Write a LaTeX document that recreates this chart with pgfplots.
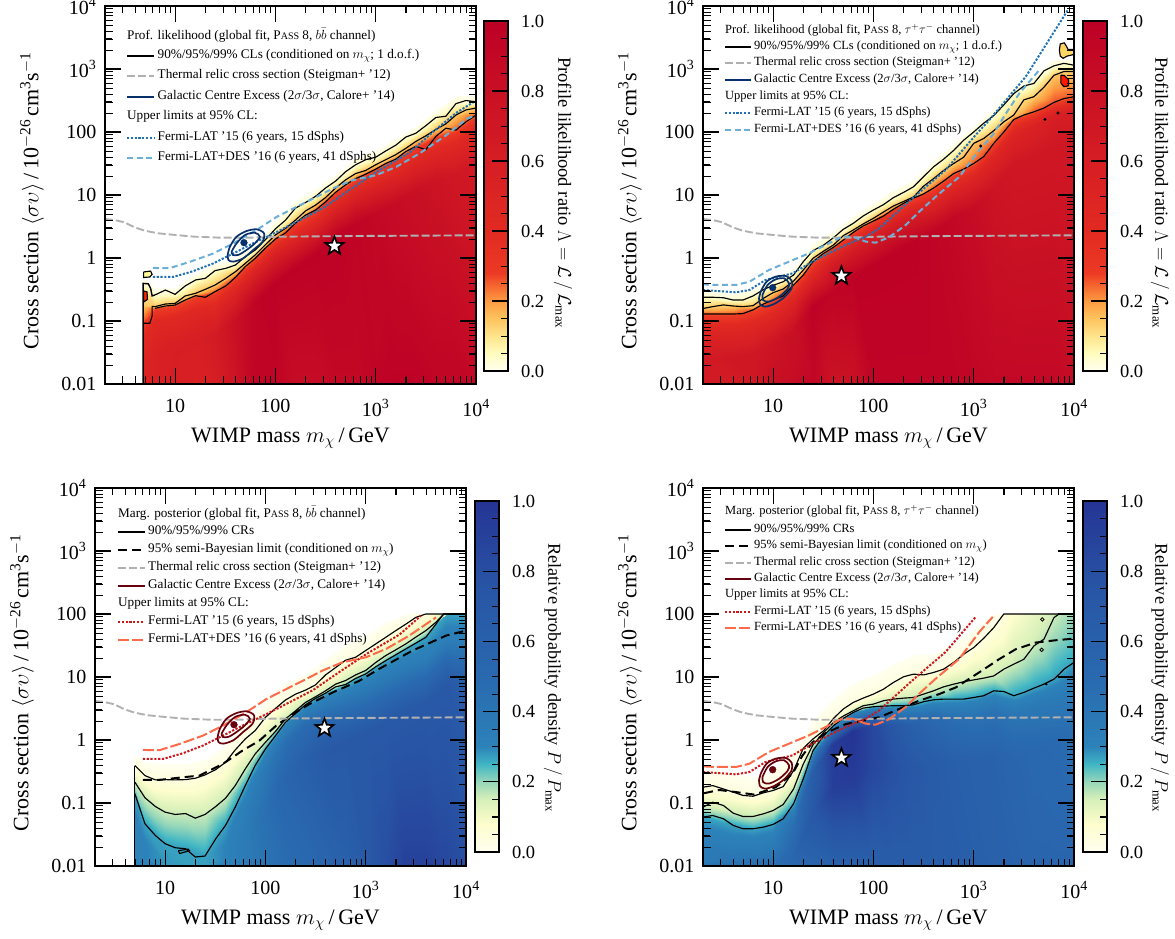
\RequirePackage{fix-cm}
\documentclass[border=0pt]{standalone}
\usepackage{fontspec}
\setmainfont{Liberation Serif}
\usepackage{pgfplots}
\usepackage{pgfplotstable}
\pgfplotsset{compat=1.18}

\pgfdeclareplotmark{fstar}{%
  \pgfsetmiterjoin
  \pgfpathmoveto{\pgfpointpolar{90}{\pgfplotmarksize}}%
  \pgfpathlineto{\pgfpointpolar{126}{.42\pgfplotmarksize}}%
  \pgfpathlineto{\pgfpointpolar{162}{\pgfplotmarksize}}%
  \pgfpathlineto{\pgfpointpolar{198}{.42\pgfplotmarksize}}%
  \pgfpathlineto{\pgfpointpolar{234}{\pgfplotmarksize}}%
  \pgfpathlineto{\pgfpointpolar{270}{.42\pgfplotmarksize}}%
  \pgfpathlineto{\pgfpointpolar{306}{\pgfplotmarksize}}%
  \pgfpathlineto{\pgfpointpolar{342}{.42\pgfplotmarksize}}%
  \pgfpathlineto{\pgfpointpolar{18}{\pgfplotmarksize}}%
  \pgfpathlineto{\pgfpointpolar{54}{.42\pgfplotmarksize}}%
  \pgfpathclose
  \pgfusepathqfillstroke}

\definecolor{lat1}{HTML}{2171B5}
\definecolor{des1}{HTML}{6BAED6}
\definecolor{gce1}{HTML}{08306B}
\definecolor{lat2}{HTML}{CB181D}
\definecolor{des2}{HTML}{FB6A4A}
\definecolor{gce2}{HTML}{67000D}
\definecolor{relic}{HTML}{B0B0B0}

\pgfplotsset{
  colormap={rl}{rgb255(0pt)=(255,255,240) rgb255(5pt)=(255,252,190) rgb255(10pt)=(254,228,140)
    rgb255(15pt)=(254,195,95) rgb255(20pt)=(253,155,65) rgb255(25pt)=(244,95,45)
    rgb255(28pt)=(236,58,36) rgb255(40pt)=(226,42,34) rgb255(60pt)=(214,30,36)
    rgb255(80pt)=(200,16,36) rgb255(100pt)=(189,0,38)},
  colormap={bp}{rgb255(0pt)=(255,255,240) rgb255(8pt)=(253,253,205) rgb255(15pt)=(215,240,185)
    rgb255(20pt)=(150,215,185) rgb255(25pt)=(65,182,196) rgb255(30pt)=(44,130,185)
    rgb255(50pt)=(41,105,175) rgb255(75pt)=(40,85,165) rgb255(100pt)=(37,52,148)},
  ctr/.style={black,line width=1.15pt,no markers},
  relicline/.style={relic,line width=1.9pt,dash pattern=on 8pt off 3pt,no markers},
  limline/.style={line width=2pt,dash pattern=on 2.2pt off 1.6pt,no markers},
  desline/.style={line width=2pt,dash pattern=on 6pt off 3.5pt,no markers},
  desline2/.style={line width=2pt,dash pattern=on 11pt off 3pt,no markers},
  semib/.style={black,line width=2pt,dash pattern=on 9pt off 5pt,no markers},
  bestfit/.style={only marks,mark=fstar,mark size=9.5pt,mark options={fill=white,draw=black,line width=1.7pt,solid}},
  mainaxis/.style={
    scale only axis,width=371pt,height=378pt,anchor=south west,
    xmin=2,xmax=10000,ymin=0.01,ymax=10000,
    axis on top,tick align=inside,
    major tick length=16pt,minor tick length=7.5pt,
    axis line style={line width=1.6pt},
    every tick/.style={black,line width=.9pt},
    xtick={10,100,1000,10000},
    xticklabels={10,100,10\textsuperscript{3},10\textsuperscript{4}},
    ytick={0.01,0.1,1,10,100,1000,10000},
    yticklabels={0.01,0.1,1,10,100,10\textsuperscript{3},10\textsuperscript{4}},
    tick label style={font=\fontsize{20}{22}\selectfont},
    xticklabel style={yshift=-12pt},
    yticklabel style={xshift=-5pt},
    xlabel={WIMP mass $m_\chi\,$/$\,$GeV},
    ylabel={Cross section $\langle\sigma\upsilon\rangle\,$/$\,$10\textsuperscript{$-$26}$\,$cm\textsuperscript{3}s\textsuperscript{$-$1}},
    every axis x label/.style={at={(rel axis cs:.5,-.143)},anchor=center,font=\fontsize{22}{24}\selectfont},
    every axis y label/.style={at={(rel axis cs:-.197,.485)},anchor=center,rotate=90,font=\fontsize{22}{24}\selectfont},
    point meta min=0,point meta max=1,
  },
  cbaxis/.style={
    scale only axis,width=24pt,height=350pt,anchor=south west,
    xmin=0,xmax=1,ymin=0,ymax=1,xtick=\empty,
    ytick={0,0.2,0.4,0.6,0.8,1},minor y tick num=3,
    ytick pos=right,yticklabel pos=right,tick align=inside,axis on top,
    major tick length=16pt,minor tick length=7pt,
    axis line style={line width=1.6pt},
    every tick/.style={black,line width=.9pt},
    yticklabel style={font=\fontsize{18.5}{20}\selectfont,xshift=9.5pt,
      /pgf/number format/fixed,/pgf/number format/fixed zerofill,
      /pgf/number format/precision=1,/pgf/number format/assume math mode=true},
    point meta min=0,point meta max=1,
  },
}

\newcommand{\lgdline}[5]{\draw[#3] (#1,938-#2) -- ++(#4-3.5,0);\node[anchor=west,inner sep=0pt] at (#1+#4,938-#2) {\strut #5};}
\newcommand{\lgdtext}[3]{\node[anchor=west,inner sep=0pt] at (#1,938-#2) {\strut #3};}

% tick marks of a panel, #1 #2 = lower left corner of the box
\newcommand{\panelticks}[2]{%
  \foreach \e in {0,1,2,3}{\foreach \k in {1,...,9}{%
    \pgfmathsetmacro\xp{#1+100.3*(\e+log10(\k)-0.30103)}%
    \pgfmathsetmacro\tl{\k==1?16:7.5}%
    \pgfmathsetmacro\lw{\k==1?1.1:.8}%
    \ifdim\xp pt>#1pt
      \draw[line width=\lw pt] (\xp,#2) -- ++(0,\tl);
      \draw[line width=\lw pt] (\xp,#2+378) -- ++(0,-\tl);
    \fi}}%
  \foreach \e in {0,...,5}{\foreach \k in {1,...,9}{%
    \pgfmathsetmacro\yp{#2+63*(\e+log10(\k))}%
    \pgfmathsetmacro\tl{\k==1?16:7.5}%
    \pgfmathsetmacro\lw{\k==1?1.1:.8}%
    \draw[line width=\lw pt] (#1,\yp) -- ++(\tl,0);
    \draw[line width=\lw pt] (#1+371,\yp) -- ++(-\tl,0);}}%
}
% tick marks of a colour bar, #1 #2 = lower left corner, #3 = height
\newcommand{\barticks}[3]{%
  \foreach \k in {1,...,19}{%
    \pgfmathsetmacro\yp{#2+#3*\k/20}%
    \pgfmathsetmacro\tl{mod(\k,4)==0?16:7}%
    \pgfmathsetmacro\lw{mod(\k,4)==0?1.1:.8}%
    \draw[line width=\lw pt] (#1+24,\yp) -- ++(-\tl,0);}%
}

% colour bar strip
\pgfplotstableread[row sep=\\]{x y c\\ 0 0 0\\ 1 0 0\\ 0 1 1\\ 1 1 1\\}\cbtab
\newcommand{\cbstrip}{\addplot[surf,shader=interp,mesh/cols=2,mesh/rows=2,mesh/ordering=x varies,point meta=explicit] table[x=x,y=y,meta=c]{\cbtab};}

% thermal relic curve, same in all panels
\pgfplotstableread[row sep=\\]{m s\\ 2 4.16\\ 2.5 4\\ 3.13 3.68\\ 3.94 3.07\\ 4.95 2.72\\ 6.7 2.47\\ 10 2.32\\ 15.6 2.18\\ 28.7 2.1\\ 53 2.1\\ 114 2.18\\ 525 2.23\\ 10000 2.29\\}\relictab

% dSph limits (the b tables stop where the prior range stops in the lower panels)
\pgfplotstableread[row sep=\\]{m s\\ 6 .5\\ 9.5 .5\\ 15 .615\\ 23.7 .813\\ 37.6 1.17\\ 59 1.69\\ 102 2.57\\ 173 3.95\\ 297 6.17\\ 546 12\\ 1007 23\\ 2168 47\\ 3556 94\\ 6310 200\\ 10000 316\\}\bblat
\pgfplotstableread[row sep=\\]{m s\\ 6 .5\\ 9.5 .5\\ 15 .615\\ 23.7 .813\\ 37.6 1.17\\ 59 1.69\\ 102 2.57\\ 173 3.95\\ 297 6.17\\ 546 12\\ 1007 23\\ 2168 47\\ 3556 94\\}\bblatb
\pgfplotstableread[row sep=\\]{m s\\ 6 .695\\ 8.8 .69\\ 13.9 .865\\ 23.7 1.17\\ 37.6 1.69\\ 64 2.74\\ 102 4.46\\ 161 6.41\\ 254 9.25\\ 373 12.7\\ 590 17.2\\ 1007 20.6\\ 1596 27.9\\ 2722 45.4\\ 5023 88.5\\ 8000 160\\ 10000 186\\}\bbdes
\pgfplotstableread[row sep=\\]{m s\\ 6 .695\\ 8.8 .69\\ 13.9 .865\\ 23.7 1.17\\ 37.6 1.69\\ 64 2.74\\ 102 4.46\\ 161 6.41\\ 254 9.25\\ 373 12.7\\ 590 17.2\\ 1007 20.6\\ 1596 27.9\\ 2722 45.4\\ 5023 88.5\\}\bbdesb
\pgfplotstableread[row sep=\\]{m s\\ 2 .31\\ 2.5 .303\\ 4.25 .285\\ 5.8 .31\\ 8.4 .448\\ 15.6 .57\\ 24.7 .875\\ 36 1.19\\ 53 1.61\\ 84 2.18\\ 114 2.95\\ 167 5.1\\ 245 8.85\\ 525 25\\ 1047 90\\ 1380 145\\ 3311 759\\ 8710 8710\\}\ttlat
\pgfplotstableread[row sep=\\]{m s\\ 2 .31\\ 2.5 .303\\ 4.25 .285\\ 5.8 .31\\ 8.4 .448\\ 15.6 .57\\ 24.7 .875\\ 36 1.19\\ 53 1.61\\ 84 2.18\\ 114 2.95\\ 167 5.1\\ 245 8.85\\ 525 25\\ 1047 90\\}\ttlatb
\pgfplotstableread[row sep=\\]{m s\\ 2 .382\\ 2.7 .373\\ 4.25 .373\\ 5.8 .42\\ 9.1 .646\\ 14.4 .875\\ 22.9 1.19\\ 33.5 1.61\\ 49 2.18\\ 62 2.18\\ 84 1.82\\ 105 1.75\\ 143 2.13\\ 210 3.34\\ 285 5.4\\ 418 9.4\\ 720 19.5\\ 1138 52\\ 1549 90\\ 2099 198\\ 2851 411\\ 4508 964\\}\ttdes
\pgfplotstableread[row sep=\\]{m s\\ 2 .382\\ 2.7 .373\\ 4.25 .373\\ 5.8 .42\\ 9.1 .646\\ 14.4 .875\\ 22.9 1.19\\ 33.5 1.61\\ 49 2.18\\ 62 2.18\\ 84 1.82\\ 105 1.75\\ 143 2.13\\ 210 3.34\\ 285 5.4\\ 418 9.4\\ 720 19.5\\ 1138 52\\ 1549 90\\}\ttdesb

% contour lines: lo / mi / up
\pgfplotstableread{
m lo mi up
6.3 .159 .169 .259
8 .173 .186 .31
10 .179 .19 .265
12.6 .215 .25 .36
16 .252 .275 .448
20 .238 .318 .475
25 .292 .372 .63
32 .36 .475 .685
40 .493 .607 .774
50 .728 .82 1.05
63 .99 1.12 1.34
79 1.42 1.61 1.93
100 2 2.32 2.9
126 2.5 2.95 3.98
158 3.55 3.98 6.17
200 4.8 5.6 7.6
251 5.75 6.9 9.5
316 7.76 9.1 12.9
398 11 12.9 16.6
501 14.5 17.4 23.4
631 18.2 21.9 30.2
794 21.4 24.5 36.3
1000 25.7 30.2 39.8
1259 31.6 36.3 50
1585 37 43.7 61.7
1995 49 55 83
2512 59 70.8 95.5
3162 52.5 87 126
3981 85 110 170
5012 115 135 178
6310 107 186 282
7943 145 224 316
10000 186 240 302
}\tlc
\pgfplotstableread{
m lo mi up
2 .129 .158 .238
2.5 .129 .169 .238
3.2 .129 .18 .234
4 .129 .173 .215
5 .131 .169 .215
6.3 .15 .175 .25
8 .186 .229 .314
10 .215 .282 .368
12.6 .25 .322 .42
16 .372 .43 .537
20 .537 .646 .875
25 .875 .99 1.31
32 1.19 1.29 1.61
40 1.48 1.61 2.1
50 1.93 2.26 2.85
63 2.55 2.78 3.55
79 3.22 3.47 4.64
100 3.86 4.27 5.78
126 4.64 5.37 7.03
158 5.92 6.68 9.07
200 7.4 7.9 11
251 8.9 9.3 13.5
316 10.4 13.8 19.5
398 12.9 18.2 28
501 16.6 24.5 37
631 21.9 31.6 51
794 25.7 39.8 74
1000 31.6 66 100
1259 40.7 79 138
1585 66 105 182
1995 100 145 269
2512 158 186 407
3162 186 324 537
3981 209 363 589
5012 240 513 933
6310 295 794 1122
7943 339 912 1230
10000 363 912 1148
}\trc
\pgfplotstableread{
m lo mi up
5 .14 .214 .393
6.3 .0468 .121 .272
8 .0305 .088 .233
10 .0226 .0716 .235
12.6 .0195 .0658 .233
16 .0188 .068 .235
20 .0139 .0575 .247
25 .0144 .0658 .279
32 .0271 .088 .339
40 .0441 .119 .443
50 .0859 .189 .695
63 .189 .348 1.04
79 .393 .6 1.41
100 .72 .918 2.29
126 1.17 1.37 3.17
158 1.9 2.15 4.3
200 2.64 2.91 5.35
251 3.62 3.95 6.19
316 4.57 4.85 7.5
398 5.55 6.04 10.8
501 6.98 7.7 14.1
631 7.6 8.8 18.5
794 9.5 10.8 20.6
1000 11.2 12.7 26.3
1259 14.5 17 33.5
1585 18.2 21.9 42.7
1995 22.5 27 54.5
2512 27.9 33.5 69
3162 34.5 43 88.5
3981 42.7 54.5 100
5012 69 74 100
6000 100 100 100
10000 100 100 100
}\blc
\pgfplotstableread{
m lo mi up
2 .0597 .0859 .178
2.5 .0634 .103 .189
3.2 .0561 .0912 .167
4 .0441 .069 .149
5 .039 .0611 .132
6.3 .039 .0611 .128
8 .0414 .0673 .145
10 .0457 .076 .158
12.6 .0561 .0946 .182
16 .0973 .167 .327
20 .242 .417 .738
25 .678 .843 1.04
32 1.17 1.32 1.41
40 1.69 1.9 2.2
50 2.2 2.4 3.1
63 2.74 2.91 3.95
79 3.21 3.5 4.62
100 3.37 3.72 5.35
126 3.45 4.2 6.41
158 3.5 4.46 8.18
200 3.5 4.62 10.1
251 3.62 4.73 11.1
316 4.05 5.35 10.8
398 4.35 6.04 11.8
501 4.46 6.98 13.3
631 4.46 7.7 17
794 4.46 8.4 23
1000 4.73 9 29.3
1259 5.04 9.6 41.2
1585 6.04 10.4 60.8
1995 5.89 13.3 100
2512 5.04 16 100
3162 5.69 19.1 100
3981 6.65 31.1 100
5012 7.7 39.8 100
6310 9.25 87.5 100
7079 11 100 100
7943 13.3 100 100
10000 17 100 100
}\brc

% heat maps: warped grids, one scanline per text line
\pgfplotstableread[row sep=\\]{m s c\\
4.8 .01 .5\\ 6.3 .01 .55\\ 10 .01 .6\\ 16 .01 .55\\ 25 .01 .6\\ 40 .01 .75\\ 63 .01 .95\\ 100 .01 .95\\ 158 .01 .85\\ 251 .01 .85\\ 398 .01 .9\\ 631 .01 .9\\ 1000 .01 .95\\ 1585 .01 .98\\ 2512 .01 .98\\ 3981 .01 .95\\ 6310 .01 .95\\ 10000 .01 .9\\
4.8 .025 .5\\ 6.3 .03 .55\\ 10 .035 .6\\ 16 .05 .6\\ 25 .06 .65\\ 40 .1 .8\\ 63 .2 .95\\ 100 .4 .98\\ 158 .7 .98\\ 251 1.15 .98\\ 398 2.2 .98\\ 631 3.6 .95\\ 1000 5.1 .9\\ 1585 7.4 .85\\ 2512 12 .8\\ 3981 17 .75\\ 6310 21 .7\\ 10000 37 .65\\
4.8 .06 .4\\ 6.3 .095 .45\\ 10 .107 .45\\ 16 .15 .45\\ 25 .175 .45\\ 40 .3 .5\\ 63 .6 .55\\ 100 1.2 .55\\ 158 2.1 .5\\ 251 3.4 .5\\ 398 6.6 .5\\ 631 11 .5\\ 1000 15.4 .5\\ 1585 22 .48\\ 2512 35 .48\\ 3981 51 .45\\ 6310 64 .45\\ 10000 112 .45\\
4.8 .1 .26\\ 6.3 .159 .26\\ 10 .179 .26\\ 16 .252 .26\\ 25 .292 .26\\ 40 .493 .26\\ 63 .99 .26\\ 100 2 .26\\ 158 3.55 .26\\ 251 5.75 .26\\ 398 11 .26\\ 631 18.2 .26\\ 1000 25.7 .26\\ 1585 37 .26\\ 2512 59 .26\\ 3981 85 .26\\ 6310 107 .26\\ 10000 186 .26\\
4.8 .17 .147\\ 6.3 .169 .147\\ 10 .19 .147\\ 16 .275 .147\\ 25 .372 .147\\ 40 .607 .147\\ 63 1.12 .147\\ 100 2.32 .147\\ 158 3.98 .147\\ 251 6.9 .147\\ 398 12.9 .147\\ 631 21.9 .147\\ 1000 30.2 .147\\ 1585 43.7 .147\\ 2512 70.8 .147\\ 3981 110 .147\\ 6310 186 .147\\ 10000 240 .147\\
4.8 .4 .036\\ 6.3 .259 .036\\ 10 .265 .036\\ 16 .448 .036\\ 25 .63 .036\\ 40 .774 .036\\ 63 1.34 .036\\ 100 2.9 .036\\ 158 6.17 .036\\ 251 9.5 .036\\ 398 16.6 .036\\ 631 30.2 .036\\ 1000 39.8 .036\\ 1585 61.7 .036\\ 2512 95.5 .036\\ 3981 170 .036\\ 6310 282 .036\\ 10000 302 .036\\
4.8 .5 0\\ 6.3 .33 0\\ 10 .34 0\\ 16 .58 0\\ 25 .8 0\\ 40 1 0\\ 63 1.75 0\\ 100 3.8 0\\ 158 8 0\\ 251 12.4 0\\ 398 21.6 0\\ 631 39 0\\ 1000 52 0\\ 1585 80 0\\ 2512 124 0\\ 3981 220 0\\ 6310 367 0\\ 10000 393 0\\
}\tlgrid

\pgfplotstableread[row sep=\\]{m s c\\
2 .01 .65\\ 4 .01 .65\\ 6.3 .01 .7\\ 10 .01 .8\\ 16 .01 .85\\ 25 .01 .92\\ 40 .01 .75\\ 63 .01 .78\\ 100 .01 .95\\ 158 .01 .95\\ 251 .01 .95\\ 398 .01 .95\\ 631 .01 .95\\ 1000 .01 .92\\ 1585 .01 .9\\ 2512 .01 .9\\ 3981 .01 .9\\ 6310 .01 .9\\ 10000 .01 .85\\
2 .026 .65\\ 4 .026 .7\\ 6.3 .03 .7\\ 10 .043 .75\\ 16 .075 .8\\ 25 .17 .98\\ 40 .3 .95\\ 63 .5 .98\\ 100 .77 .98\\ 158 1.2 .98\\ 251 1.8 .98\\ 398 2.6 .95\\ 631 4.4 .9\\ 1000 6.3 .85\\ 1585 13 .75\\ 2512 32 .7\\ 3981 42 .7\\ 6310 59 .7\\ 10000 73 .7\\
2 .077 .45\\ 4 .077 .45\\ 6.3 .09 .45\\ 10 .13 .45\\ 16 .22 .5\\ 25 .52 .5\\ 40 .9 .6\\ 63 1.5 .6\\ 100 2.3 .6\\ 158 3.5 .6\\ 251 5.3 .55\\ 398 7.7 .5\\ 631 13 .5\\ 1000 19 .5\\ 1585 40 .5\\ 2512 95 .5\\ 3981 125 .55\\ 6310 177 .6\\ 10000 218 .6\\
2 .129 .26\\ 4 .129 .26\\ 6.3 .15 .26\\ 10 .215 .26\\ 16 .372 .26\\ 25 .875 .26\\ 40 1.48 .26\\ 63 2.55 .26\\ 100 3.86 .26\\ 158 5.92 .26\\ 251 8.9 .26\\ 398 12.9 .26\\ 631 21.9 .26\\ 1000 31.6 .26\\ 1585 66 .26\\ 2512 158 .26\\ 3981 209 .26\\ 6310 295 .26\\ 10000 363 .26\\
2 .158 .147\\ 4 .173 .147\\ 6.3 .175 .147\\ 10 .282 .147\\ 16 .43 .147\\ 25 .99 .147\\ 40 1.61 .147\\ 63 2.78 .147\\ 100 4.27 .147\\ 158 6.68 .147\\ 251 9.3 .147\\ 398 18.2 .147\\ 631 31.6 .147\\ 1000 66 .147\\ 1585 105 .147\\ 2512 186 .147\\ 3981 363 .147\\ 6310 794 .147\\ 10000 912 .147\\
2 .238 .036\\ 4 .215 .036\\ 6.3 .25 .036\\ 10 .368 .036\\ 16 .537 .036\\ 25 1.31 .036\\ 40 2.1 .036\\ 63 3.55 .036\\ 100 5.78 .036\\ 158 9.07 .036\\ 251 13.5 .036\\ 398 28 .036\\ 631 51 .036\\ 1000 100 .036\\ 1585 182 .036\\ 2512 407 .036\\ 3981 589 .036\\ 6310 1122 .036\\ 10000 1148 .036\\
2 .31 0\\ 4 .28 0\\ 6.3 .325 0\\ 10 .48 0\\ 16 .7 0\\ 25 1.7 0\\ 40 2.7 0\\ 63 4.6 0\\ 100 7.5 0\\ 158 11.8 0\\ 251 17.5 0\\ 398 36 0\\ 631 66 0\\ 1000 130 0\\ 1585 237 0\\ 2512 530 0\\ 3981 766 0\\ 6310 1460 0\\ 10000 1490 0\\
}\trgrid

\pgfplotstableread[row sep=\\]{m s c\\
4.95 .01 .3\\ 6.3 .01 .3\\ 10 .01 .3\\ 16 .01 .3\\ 25 .01 .3\\ 40 .01 .33\\ 63 .01 .36\\ 100 .01 .42\\ 158 .01 .47\\ 251 .01 .5\\ 398 .01 .55\\ 631 .01 .6\\ 1000 .01 .7\\ 1585 .01 .8\\ 2512 .01 .9\\ 3981 .01 .9\\ 6310 .01 .85\\ 10000 .01 .8\\
4.95 .03 .3\\ 6.3 .012 .3\\ 10 .0105 .28\\ 16 .0102 .27\\ 25 .0101 .27\\ 40 .012 .3\\ 63 .03 .36\\ 100 .08 .45\\ 158 .25 .55\\ 251 .5 .62\\ 398 .7 .7\\ 631 1 .7\\ 1000 1.4 .7\\ 1585 2 .7\\ 2512 3 .7\\ 3981 4 .7\\ 6310 8 .7\\ 10000 8 .65\\
4.95 .07 .3\\ 6.3 .024 .3\\ 10 .012 .28\\ 16 .011 .27\\ 25 .0105 .27\\ 40 .022 .3\\ 63 .09 .33\\ 100 .35 .38\\ 158 .95 .45\\ 251 1.8 .48\\ 398 2.8 .45\\ 631 3.8 .42\\ 1000 5.6 .4\\ 1585 9 .38\\ 2512 14 .36\\ 3981 21 .33\\ 6310 40 .33\\ 10000 40 .33\\
4.95 .14 .27\\ 6.3 .0468 .27\\ 10 .0226 .27\\ 16 .0188 .27\\ 25 .0144 .27\\ 40 .0441 .27\\ 63 .189 .27\\ 100 .72 .27\\ 158 1.9 .27\\ 251 3.62 .27\\ 398 5.55 .27\\ 631 7.6 .27\\ 1000 11.2 .27\\ 1585 18.2 .27\\ 2512 27.9 .27\\ 3981 42.7 .27\\ 6310 100 .27\\ 10000 100 .27\\
4.95 .214 .16\\ 6.3 .121 .16\\ 10 .0716 .16\\ 16 .068 .16\\ 25 .0658 .16\\ 40 .119 .16\\ 63 .348 .16\\ 100 .918 .16\\ 158 2.15 .16\\ 251 3.95 .16\\ 398 6.04 .16\\ 631 8.8 .16\\ 1000 12.7 .16\\ 1585 21.9 .16\\ 2512 33.5 .16\\ 3981 54.5 .16\\ 6310 100 .16\\ 10000 100 .16\\
4.95 .393 .04\\ 6.3 .272 .04\\ 10 .235 .04\\ 16 .235 .04\\ 25 .279 .04\\ 40 .443 .04\\ 63 1.04 .04\\ 100 2.29 .04\\ 158 4.3 .04\\ 251 6.19 .04\\ 398 10.8 .04\\ 631 18.5 .04\\ 1000 26.3 .04\\ 1585 42.7 .04\\ 2512 69 .04\\ 3981 100 .04\\ 6310 100 .04\\ 10000 100 .04\\
4.95 .6 0\\ 6.3 .45 0\\ 10 .42 0\\ 16 .42 0\\ 25 .5 0\\ 40 .8 0\\ 63 1.9 0\\ 100 4.2 0\\ 158 8 0\\ 251 11 0\\ 398 19 0\\ 631 33 0\\ 1000 47 0\\ 1585 75 0\\ 2512 100 0\\ 3981 100 0\\ 6310 100 0\\ 10000 100 0\\
}\blgrid

\pgfplotstableread[row sep=\\]{m s c\\
2 .01 .42\\ 4 .01 .48\\ 6.3 .01 .5\\ 10 .01 .5\\ 16 .01 .52\\ 25 .01 .55\\ 40 .01 .6\\ 63 .01 .6\\ 100 .01 .62\\ 158 .01 .65\\ 251 .01 .65\\ 398 .01 .65\\ 631 .01 .65\\ 1000 .01 .62\\ 1585 .01 .6\\ 2512 .01 .58\\ 3981 .01 .55\\ 6310 .01 .55\\ 10000 .01 .55\\
2 .012 .36\\ 4 .011 .42\\ 6.3 .011 .45\\ 10 .011 .45\\ 16 .015 .55\\ 25 .07 .72\\ 40 .17 .92\\ 63 .27 .95\\ 100 .35 .85\\ 158 .35 .78\\ 251 .36 .72\\ 398 .43 .66\\ 631 .45 .62\\ 1000 .47 .6\\ 1585 .6 .58\\ 2512 .5 .55\\ 3981 .66 .52\\ 6310 .92 .5\\ 10000 1.7 .45\\
2 .03 .32\\ 4 .022 .33\\ 6.3 .02 .34\\ 10 .023 .35\\ 16 .05 .45\\ 25 .34 .65\\ 40 .85 .95\\ 63 1.4 1\\ 100 1.7 .85\\ 158 1.75 .72\\ 251 1.8 .6\\ 398 2.2 .5\\ 631 2.2 .45\\ 1000 2.4 .42\\ 1585 3 .42\\ 2512 2.5 .4\\ 3981 3.3 .38\\ 6310 4.6 .36\\ 10000 8.5 .33\\
2 .0597 .27\\ 4 .0441 .27\\ 6.3 .039 .27\\ 10 .0457 .27\\ 16 .0973 .27\\ 25 .678 .27\\ 40 1.69 .27\\ 63 2.74 .27\\ 100 3.37 .27\\ 158 3.5 .27\\ 251 3.62 .27\\ 398 4.35 .27\\ 631 4.46 .27\\ 1000 4.73 .27\\ 1585 6.04 .27\\ 2512 5.04 .27\\ 3981 6.65 .27\\ 6310 9.25 .27\\ 10000 17 .27\\
2 .0859 .16\\ 4 .069 .16\\ 6.3 .0611 .16\\ 10 .076 .16\\ 16 .167 .16\\ 25 .843 .16\\ 40 1.9 .16\\ 63 2.91 .16\\ 100 3.72 .16\\ 158 4.46 .16\\ 251 4.73 .16\\ 398 6.04 .16\\ 631 7.7 .16\\ 1000 9 .16\\ 1585 10.4 .16\\ 2512 16 .16\\ 3981 31.1 .16\\ 6310 87.5 .16\\ 10000 100 .2\\
2 .178 .04\\ 4 .149 .04\\ 6.3 .128 .04\\ 10 .158 .04\\ 16 .327 .04\\ 25 1.04 .04\\ 40 2.2 .04\\ 63 3.95 .04\\ 100 5.35 .04\\ 158 8.18 .04\\ 251 11.1 .04\\ 398 11.8 .04\\ 631 17 .04\\ 1000 29.3 .04\\ 1585 60.8 .04\\ 2512 100 .08\\ 3981 100 .12\\ 6310 100 .16\\ 10000 100 .2\\
2 .36 0\\ 4 .3 0\\ 6.3 .26 0\\ 10 .32 0\\ 16 .65 0\\ 25 2.1 0\\ 40 4.4 0\\ 63 7.9 0\\ 100 10.7 0\\ 158 16 0\\ 251 22 0\\ 398 24 0\\ 631 34 0\\ 1000 58 0\\ 1585 100 0\\ 2512 100 .08\\ 3981 100 .12\\ 6310 100 .16\\ 10000 100 .2\\
}\brgrid

% GCE ellipses
\newcommand{\gcebb}[1]{%
  \addplot[#1,line width=1.7pt,smooth,no markers] coordinates {(33.4,1.12)(35.2,1.51)(41,2.18)(51.6,2.68)(65,2.85)(77,2.47)(74.5,1.82)(60,1.34)(47.9,.99)(38,.875)(34,.93)(33.4,1.12)};
  \addplot[#1,line width=1.7pt,smooth,no markers] coordinates {(36.6,1.26)(41,1.71)(49.8,2.32)(62.5,2.52)(70,2.18)(62.5,1.71)(51.6,1.34)(42.7,1.12)(37.5,1.12)(36.6,1.26)};
  \addplot[#1,only marks,mark=*,mark size=3.4pt] coordinates {(48.6,1.75)};
}
\newcommand{\gcett}[1]{%
  \addplot[#1,line width=1.7pt,smooth,no markers] coordinates {(7.24,.229)(7.53,.292)(8.6,.42)(10.6,.506)(13.4,.518)(15.3,.437)(15.3,.33)(12.9,.238)(10.2,.186)(8.3,.169)(7.4,.186)(7.24,.229)};
  \addplot[#1,line width=1.7pt,smooth,no markers] coordinates {(7.83,.259)(8.8,.372)(10.6,.458)(12.9,.476)(14.4,.396)(13.9,.322)(11.5,.243)(9.1,.203)(7.94,.215)(7.83,.259)};
  \addplot[#1,only marks,mark=*,mark size=3.4pt] coordinates {(9.9,.338)};
}

\newcommand{\lf}{\fontsize{13.2}{14}\selectfont}
\newcommand{\lfs}{\fontsize{12.5}{13}\selectfont}
\newcommand{\pass}{P{\fontsize{10}{10}\selectfont ASS}}

\begin{document}
\begin{tikzpicture}[x=1pt,y=1pt]
\path[use as bounding box] (0,0) rectangle (1175,938);

% top left
\begin{loglogaxis}[mainaxis,at={(105pt,554pt)},colormap name=rl]
  \addplot[surf,shader=interp,mesh/cols=18,mesh/rows=7,mesh/ordering=x varies,point meta=explicit] table[x=m,y=s,meta=c]{\tlgrid};
  \addplot[ctr] table[x=m,y=lo]{\tlc};
  \addplot[ctr] table[x=m,y=mi]{\tlc};
  \addplot[ctr] table[x=m,y=up]{\tlc};
  \addplot[ctr,line width=1.4pt] coordinates {(4.8,.01)(4.8,.395)(5.4,.39)(5.7,.33)(5.9,.25)(6.3,.259)};
  \addplot[ctr] coordinates {(4.85,.092)(5.6,.092)(5.9,.12)(5.9,.17)(6.3,.169)};
  \addplot[ctr,fill=white!60!yellow] coordinates {(4.85,.6)(5.7,.62)(5.9,.55)(5.6,.5)(4.85,.49)(4.85,.6)};
  \addplot[ctr,fill=red!70!orange] coordinates {(4.85,.3)(5.25,.29)(5.3,.22)(4.85,.2)(4.85,.3)};
  \addplot[relicline] table[x=m,y=s]{\relictab};
  \addplot[limline,lat1] table[x=m,y=s]{\bblat};
  \addplot[desline,des1] table[x=m,y=s]{\bbdes};
  \gcebb{gce1}
  \addplot[bestfit] coordinates {(388,1.55)};
\end{loglogaxis}
\panelticks{105}{554}
\begin{axis}[cbaxis,at={(484pt,567pt)},colormap name=rl]
  \cbstrip
\end{axis}
\barticks{484}{567}{350}
\node[rotate=-90,font=\fontsize{18.5}{20}\selectfont] at (563,938-193) {Profile likelihood ratio $\Lambda=\mathcal{L}\,/\,\mathcal{L}_\mathrm{max}$};

% top right
\begin{loglogaxis}[mainaxis,at={(703pt,554pt)},colormap name=rl]
  \addplot[surf,shader=interp,mesh/cols=19,mesh/rows=7,mesh/ordering=x varies,point meta=explicit] table[x=m,y=s,meta=c]{\trgrid};
  \addplot[ctr] table[x=m,y=lo]{\trc};
  \addplot[ctr] table[x=m,y=mi]{\trc};
  \addplot[ctr] table[x=m,y=up]{\trc};
  \addplot[ctr,fill=yellow!50!orange!60!white] coordinates {(7145,2000)(7300,2500)(8000,2600)(8400,2300)(8700,2050)(10000,2050)(10000,1700)(8500,1600)(7800,1476)(7300,1600)(7145,2000)};
  \addplot[ctr,fill=red!80!orange] coordinates {(7400,800)(8000,790)(8800,680)(8800,540)(7900,525)(7400,600)(7400,800)};
  \addplot[black,only marks,mark=*,mark size=1.3pt] coordinates {(5130,158)(6920,200)(1175,60)};
  \addplot[relicline] table[x=m,y=s]{\relictab};
  \addplot[limline,lat1] table[x=m,y=s]{\ttlat};
  \addplot[desline,des1] table[x=m,y=s]{\ttdes};
  \gcett{gce1}
  \addplot[bestfit] coordinates {(48,.52)};
\end{loglogaxis}
\panelticks{703}{554}
\begin{axis}[cbaxis,at={(1083pt,567pt)},colormap name=rl]
  \cbstrip
\end{axis}
\barticks{1083}{567}{350}
\node[rotate=-90,font=\fontsize{18.5}{20}\selectfont] at (1160,938-193) {Profile likelihood ratio $\Lambda=\mathcal{L}\,/\,\mathcal{L}_\mathrm{max}$};

% bottom left
\begin{loglogaxis}[mainaxis,at={(95pt,72pt)},colormap name=bp]
  \addplot[surf,shader=interp,mesh/cols=18,mesh/rows=7,mesh/ordering=x varies,point meta=explicit] table[x=m,y=s,meta=c]{\blgrid};
  \addplot[ctr] table[x=m,y=lo]{\blc};
  \addplot[ctr] table[x=m,y=mi]{\blc};
  \addplot[ctr] table[x=m,y=up]{\blc};
  \addplot[ctr,line width=1.5pt] coordinates {(4.95,.01)(4.95,.393)};
  \addplot[ctr] coordinates {(13.5,.0175)(17,.0185)(17.5,.0175)(14,.0158)(13.5,.0175)};
  \addplot[semib] coordinates {(6,.233)(8.8,.233)(15,.256)(22,.272)(37.6,.417)(59,.678)(87,.975)(128,1.69)(187,2.57)(275,3.72)(469,5.69)(865,8.7)(1368,13.5)(2938,26.3)(6324,45.4)(10000,54.5)};
  \addplot[relicline] table[x=m,y=s]{\relictab};
  \addplot[limline,lat2] table[x=m,y=s]{\bblatb};
  \addplot[desline2,des2] table[x=m,y=s]{\bbdesb};
  \gcebb{gce2}
  \addplot[bestfit] coordinates {(388,1.55)};
\end{loglogaxis}
\panelticks{95}{72}
\begin{axis}[cbaxis,at={(475pt,86pt)},height=351pt,colormap name=bp]
  \cbstrip
\end{axis}
\barticks{475}{86}{351}
\node[rotate=-90,font=\fontsize{18.2}{20}\selectfont] at (553,938-678) {Relative probability density $P\,/\,P_\mathrm{max}$};

% bottom right
\begin{loglogaxis}[mainaxis,at={(703pt,72pt)},colormap name=bp]
  \addplot[surf,shader=interp,mesh/cols=19,mesh/rows=7,mesh/ordering=x varies,point meta=explicit] table[x=m,y=s,meta=c]{\brgrid};
  \addplot[ctr] table[x=m,y=lo]{\brc};
  \addplot[ctr] table[x=m,y=mi]{\brc};
  \addplot[ctr] table[x=m,y=up]{\brc};
  \addplot[black,only marks,mark=o,mark size=1.8pt,mark options={line width=.8pt}] coordinates {(4830,82)(4760,27)};
  \addplot[black,only marks,mark=*,mark size=1pt] coordinates {(5300,7.7)};
  \addplot[semib] coordinates {(2.05,.143)(2.9,.161)(4.25,.149)(6.5,.136)(10.6,.178)(15.6,.29)(19.6,.565)(24.7,.918)(33.5,1.29)(53,1.79)(78,2.02)(114,2.29)(180,3.1)(285,4.2)(451,5.35)(662,6.82)(1130,11.8)(1786,19.1)(2624,27.6)(4150,35.2)(6561,38.3)(10000,40.7)};
  \addplot[relicline] table[x=m,y=s]{\relictab};
  \addplot[limline,lat2] table[x=m,y=s]{\ttlatb};
  \addplot[desline2,des2] table[x=m,y=s]{\ttdesb};
  \gcett{gce2}
  \addplot[bestfit] coordinates {(48,.52)};
\end{loglogaxis}
\panelticks{703}{72}
\begin{axis}[cbaxis,at={(1083pt,86pt)},height=351pt,colormap name=bp]
  \cbstrip
\end{axis}
\barticks{1083}{86}{351}
\node[rotate=-90,font=\fontsize{18.2}{20}\selectfont] at (1160,938-678) {Relative probability density $P\,/\,P_\mathrm{max}$};

% legends
\begingroup\lf
\lgdtext{127}{36}{Prof. likelihood (global fit, \pass\ 8, $b\bar{b}$ channel)}
\lgdline{127}{56}{black,line width=1.1pt}{30.5}{90\%/95\%/99\% CLs (conditioned on $m_\chi$; 1 d.o.f.)}
\lgdline{127}{76}{relic,line width=1.9pt,dash pattern=on 8pt off 3pt}{30.5}{Thermal relic cross section (Steigman+ '12)}
\lgdline{127}{97}{gce1,line width=2pt}{30.5}{Galactic Centre Excess (2$\sigma$/3$\sigma$, Calore+ '14)}
\lgdtext{127}{117}{Upper limits at 95\% CL:}
\lgdline{127}{138}{lat1,line width=2pt,dash pattern=on 2.2pt off 1.6pt}{30.5}{Fermi-LAT '15 (6 years, 15 dSphs)}
\lgdline{127}{158}{des1,line width=2pt,dash pattern=on 6pt off 3.5pt}{30.5}{Fermi-LAT+DES '16 (6 years, 41 dSphs)}
\lgdtext{118}{514}{Marg. posterior (global fit, \pass\ 8, $b\bar{b}$ channel)}
\lgdline{118}{532}{black,line width=1.1pt}{30}{90\%/95\%/99\% CRs}
\lgdline{118}{550}{black,line width=2pt,dash pattern=on 9pt off 5pt}{30}{95\% semi-Bayesian limit (conditioned on $m_\chi$)}
\lgdline{118}{568}{relic,line width=1.9pt,dash pattern=on 8pt off 3pt}{30}{Thermal relic cross section (Steigman+ '12)}
\lgdline{118}{586}{gce2,line width=2pt}{30}{Galactic Centre Excess (2$\sigma$/3$\sigma$, Calore+ '14)}
\lgdtext{118}{604}{Upper limits at 95\% CL:}
\lgdline{118}{622}{lat2,line width=2pt,dash pattern=on 2.2pt off 1.6pt}{30}{Fermi-LAT '15 (6 years, 15 dSphs)}
\lgdline{118}{640}{des2,line width=2pt,dash pattern=on 11pt off 3pt}{30}{Fermi-LAT+DES '16 (6 years, 41 dSphs)}
\endgroup
\begingroup\lfs
\lgdtext{725}{31}{Prof. likelihood (global fit, \pass\ 8, $\tau^+\tau^-$ channel)}
\lgdline{725}{47}{black,line width=1.1pt}{29}{90\%/95\%/99\% CLs (conditioned on $m_\chi$; 1 d.o.f.)}
\lgdline{725}{63}{relic,line width=1.9pt,dash pattern=on 8pt off 3pt}{29}{Thermal relic cross section (Steigman+ '12)}
\lgdline{725}{80}{gce1,line width=2pt}{29}{Galactic Centre Excess (2$\sigma$/3$\sigma$, Calore+ '14)}
\lgdtext{725}{97}{Upper limits at 95\% CL:}
\lgdline{725}{113}{lat1,line width=2pt,dash pattern=on 2.2pt off 1.6pt}{29}{Fermi-LAT '15 (6 years, 15 dSphs)}
\lgdline{725}{130}{des1,line width=2pt,dash pattern=on 6pt off 3.5pt}{29}{Fermi-LAT+DES '16 (6 years, 41 dSphs)}
\lgdtext{725}{512}{Marg. posterior (global fit, \pass\ 8, $\tau^+\tau^-$ channel)}
\lgdline{725}{530}{black,line width=1.1pt}{29}{90\%/95\%/99\% CRs}
\lgdline{725}{546}{black,line width=2pt,dash pattern=on 9pt off 5pt}{29}{95\% semi-Bayesian limit (conditioned on $m_\chi$)}
\lgdline{725}{563}{relic,line width=1.9pt,dash pattern=on 8pt off 3pt}{29}{Thermal relic cross section (Steigman+ '12)}
\lgdline{725}{579}{gce2,line width=2pt}{29}{Galactic Centre Excess (2$\sigma$/3$\sigma$, Calore+ '14)}
\lgdtext{725}{595}{Upper limits at 95\% CL:}
\lgdline{725}{612}{lat2,line width=2pt,dash pattern=on 2.2pt off 1.6pt}{29}{Fermi-LAT '15 (6 years, 15 dSphs)}
\lgdline{725}{628}{des2,line width=2pt,dash pattern=on 11pt off 3pt}{29}{Fermi-LAT+DES '16 (6 years, 41 dSphs)}
\endgroup
\end{tikzpicture}
\end{document}
